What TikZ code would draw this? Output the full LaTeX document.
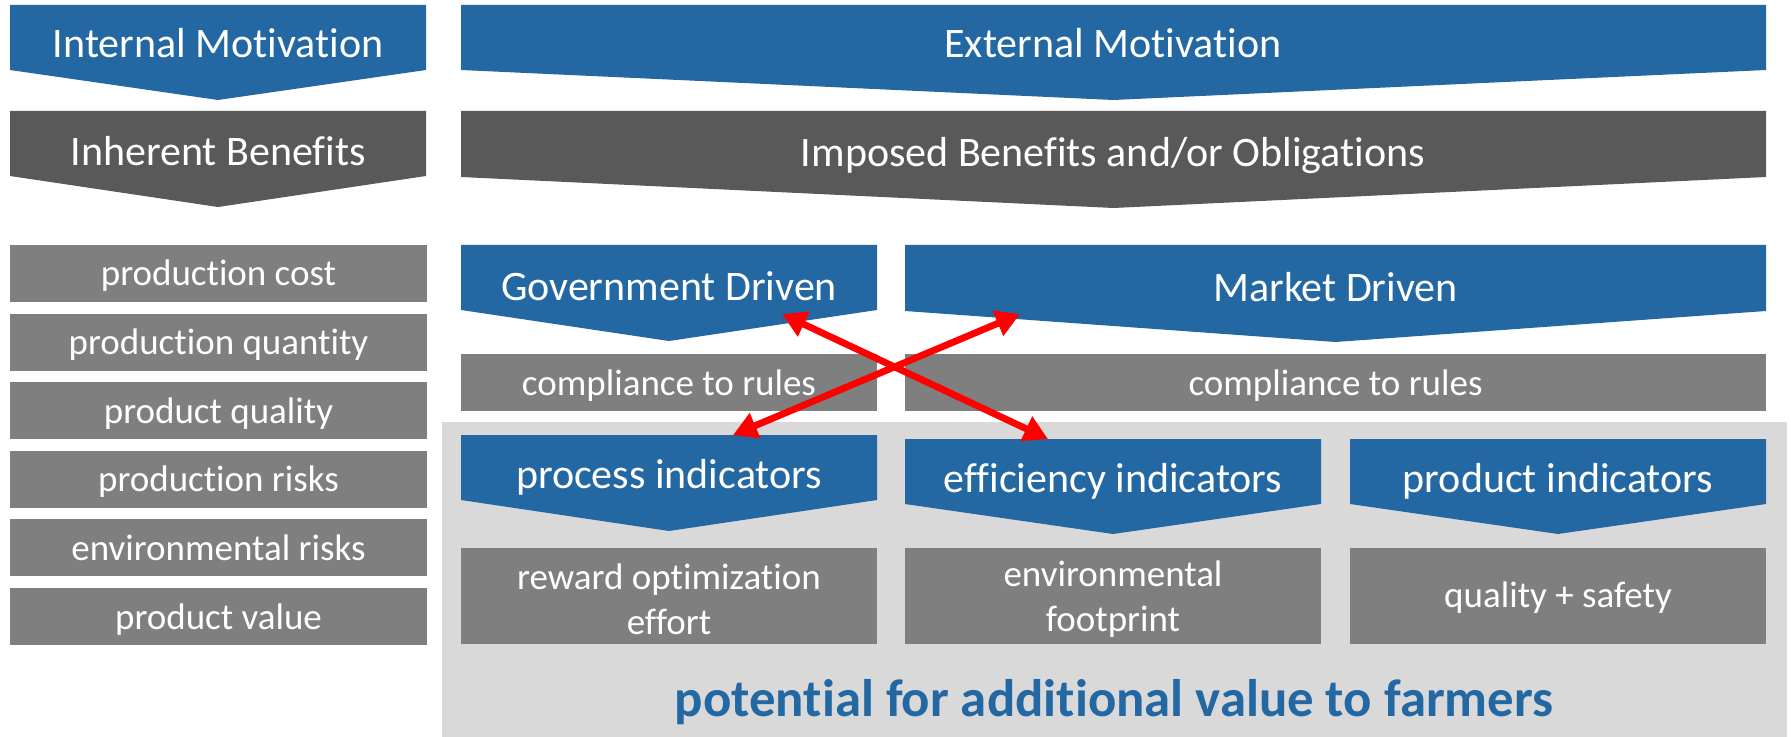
\documentclass[tikz,border=0pt]{standalone}
\usepackage{fontspec}
\setmainfont{Carlito}[Ligatures=NoCommon]
\usetikzlibrary{arrows.meta}

\definecolor{mblue}{HTML}{2368A2}
\definecolor{dgray}{HTML}{595959}
\definecolor{mgray}{HTML}{7F7F7F}
\definecolor{lgray}{HTML}{D9D9D9}

% chevron: x1, x2, top, shoulder, tip, colour
\newcommand{\chev}[6]{\fill[#6] (#1,#3) -- (#2,#3) -- (#2,#4) -- ({(#1+#2)/2},#5) -- (#1,#4) -- cycle;}

\begin{document}
\begin{tikzpicture}[x=0.5pt,y=-0.5pt,
  >={Triangle[length=12pt,width=13pt]},
  ttl/.style={text=white,font=\fontsize{21}{25}\selectfont,anchor=base,inner sep=0pt},
  lbl/.style={text=white,font=\fontsize{18.5}{22.5}\selectfont,align=center,inner sep=0pt},
  redarr/.style={<->,red,line width=3.4pt}]
\useasboundingbox (0,0) rectangle (1791,737);
\fill[white] (0,0) rectangle (1791,737);
\fill[lgray] (442,422) rectangle (1787,737);

% motivation and benefits
\chev{10}{426}{5}{70}{100}{mblue}
\chev{461}{1766}{5}{70}{100}{mblue}
\chev{10}{426}{111}{176}{207}{dgray}
\chev{461}{1766}{111}{177}{208}{dgray}
\node[ttl] (intmot) at (218,58) {Internal Motivation};
\node[ttl] (extmot) at (1113,58) {External Motivation};
\node[ttl] (inhben) at (218,166) {Inherent Benefits};
\node[ttl] (impben) at (1113,167) {Imposed Benefits and/or Obligations};

\foreach \t [count=\i from 0] in {production cost,production quantity,product quality,production risks,environmental risks,product value}{
  \fill[mgray] (10,245+68.6*\i) rectangle (427,302+68.6*\i);
  \node[lbl,anchor=base] (ib\i) at (218.5,286+68.6*\i) {\t};
}

% government / market
\chev{461}{877}{245}{310}{341}{mblue}
\chev{905}{1766}{245}{311}{342}{mblue}
\node[ttl] (gov) at (669,300) {Government Driven};
\node[ttl] (mkt) at (1335.5,301) {Market Driven};
\fill[mgray] (461,354) rectangle (877,411);
\fill[mgray] (905,354) rectangle (1766,411);
\node[lbl,anchor=base] (govrul) at (669,395) {compliance to rules};
\node[lbl,anchor=base] (mktrul) at (1335.5,395) {compliance to rules};

% indicators
\chev{461}{877}{435}{500}{531}{mblue}
\chev{905}{1321}{439}{504}{534}{mblue}
\chev{1350}{1766}{439}{504}{534}{mblue}
\node[ttl] (procind) at (669,488) {process indicators};
\node[ttl] (effind) at (1113,492) {efficiency indicators};
\node[ttl] (prodind) at (1558,492) {product indicators};
\foreach \x in {461,905,1350}
  \fill[mgray] (\x,548) rectangle (\x+416,644);
\node[lbl] (reward) at (669,599) {reward optimization\\effort};
\node[lbl] (envfp) at (1113,599) {environmental\\footprint};
\node[lbl,anchor=base] (qualsaf) at (1558,607) {quality + safety};

\node[anchor=base,inner sep=0pt,text=mblue,font=\fontsize{26.4}{30}\selectfont\bfseries] (pot) at (1114,716) {potential for additional value to farmers};

% red arrows
\coordinate (govpt) at (782,314);
\coordinate (effpt) at (1048,439);
\coordinate (mktpt) at (1020,314);
\coordinate (procpt) at (733,435);
\draw[redarr] (govpt) -- (effpt);
\draw[redarr] (mktpt) -- (procpt);
\end{tikzpicture}
\end{document}
